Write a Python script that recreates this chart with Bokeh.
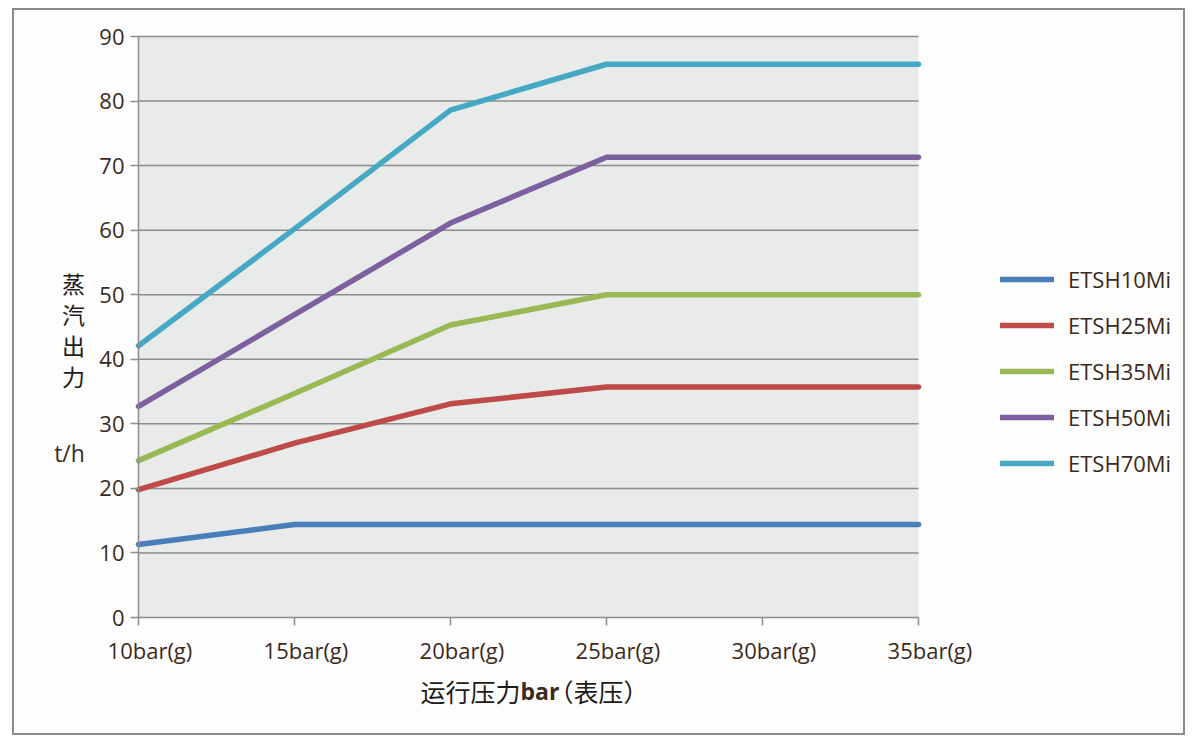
from bokeh.plotting import figure
from bokeh.models import Range1d, Legend, LegendItem, FixedTicker, BoxAnnotation, Label, ColumnDataSource
from bokeh.embed import file_html
from bokeh.resources import INLINE

categories = ["10bar(g)", "15bar(g)", "20bar(g)", "25bar(g)", "30bar(g)", "35bar(g)"]
series_names = ["ETSH10Mi", "ETSH25Mi", "ETSH35Mi", "ETSH50Mi", "ETSH70Mi"]
etsh10 = [11.3, 14.4, 14.4, 14.4, 14.4, 14.4]
etsh25 = [19.8, 27.0, 33.1, 35.7, 35.7, 35.7]
etsh35 = [24.3, 34.7, 45.3, 50.0, 50.0, 50.0]
etsh50 = [32.7, 46.9, 61.1, 71.3, 71.3, 71.3]
etsh70 = [42.1, 60.2, 78.6, 85.7, 85.7, 85.7]
y_ticks = [0, 10, 20, 30, 40, 50, 60, 70, 80, 90]
y_title_chars = ["蒸", "汽", "出", "力"]
y_unit = "t/h"
x_title_parts = ["运行压力", "bar", "（表压）"]
colors = ["#4a7ebb", "#be4b48", "#98b954", "#7d60a0", "#46a9c4"]

FONT = "Open Sans"
CJK = "Noto Sans CJK SC"
TXT = "#3b2a1c"
DARK = "#1e1a17"

# canvas geometry (pixels)
W, H = 1173, 727
PX0, PX1 = 124, 904      # plot area left/right inside canvas
PY_TOP, PY_BOT = 26, 607  # plot area top/bottom inside canvas (from top)
n = len(categories) - 1
ymax = y_ticks[-1]
xs_per_px = n / (PX1 - PX0)
ys_per_px = ymax / (PY_BOT - PY_TOP)

p = figure(width=W, height=H, output_backend="svg", toolbar_location=None,
           x_range=Range1d(-PX0 * xs_per_px, (W - PX0) * xs_per_px),
           y_range=Range1d(-(H - PY_BOT) * ys_per_px, ymax + PY_TOP * ys_per_px),
           min_border=0, min_border_left=0, min_border_right=0,
           min_border_top=0, min_border_bottom=0,
           background_fill_color="#fdfdfd", border_fill_color="#fdfdfd")
p.styles = {"border": "2px solid #8a8a8a", "margin-left": "12px", "margin-top": "8px"}
p.outline_line_color = None
p.xgrid.visible = False
p.ygrid.visible = False

# plot area background
p.add_layout(BoxAnnotation(left=0, right=n, bottom=0, top=ymax, fill_color="#e9ebeb",
                           fill_alpha=1, line_color=None, level="underlay"))

# horizontal grid lines
grid_src = ColumnDataSource(dict(y=y_ticks[1:], x0=[0] * (len(y_ticks) - 1),
                                 x1=[n] * (len(y_ticks) - 1)))
p.segment(x0="x0", x1="x1", y0="y", y1="y", source=grid_src,
          line_color="#8c8c8c", line_width=1.5)

xs = list(range(len(categories)))
items = []
for name, vals, c in zip(series_names, [etsh10, etsh25, etsh35, etsh50, etsh70], colors):
    r = p.line(xs, vals, line_color=c, line_width=5.5, line_cap="round", line_join="round")
    items.append(LegendItem(label=name, renderers=[r]))

# axes drawn at fixed data locations
p.xaxis.fixed_location = 0
p.yaxis.fixed_location = 0
p.xaxis.bounds = (0, n)
p.yaxis.bounds = (0, ymax)
p.xaxis.ticker = FixedTicker(ticks=xs)
# labels sit slightly right of their ticks in the original
p.xaxis.major_label_overrides = {i: "\u00a0" * 4 + c for i, c in enumerate(categories)}
p.yaxis.ticker = FixedTicker(ticks=y_ticks)
for ax in (p.xaxis[0], p.yaxis[0]):
    ax.axis_line_color = "#8c8c8c"
    ax.axis_line_width = 1.5
    ax.major_tick_line_color = "#8c8c8c"
    ax.major_tick_line_width = 1.5
    ax.major_tick_in = 0
    ax.major_tick_out = 8
    ax.minor_tick_line_color = None
    ax.major_label_text_font = FONT
    ax.major_label_text_font_size = "22px"
    ax.major_label_text_color = TXT
p.xaxis.major_label_standoff = 9
p.yaxis.major_label_standoff = 6

# helpers: page-pixel positions -> frame screen coords
def sx(px):
    return px - 14

def sy(py):
    return 737 - py

# y-axis title, stacked characters
for i, ch in enumerate(y_title_chars):
    p.add_layout(Label(x=sx(73), y=sy(282 + 31 * i), x_units="screen", y_units="screen",
                       text=ch, text_align="center", text_baseline="middle",
                       text_font=CJK, text_font_size="23px", text_color=DARK))
p.add_layout(Label(x=sx(69), y=sy(452), x_units="screen", y_units="screen", text=y_unit,
                   text_align="center", text_baseline="middle", text_font=FONT,
                   text_font_size="23px", text_color=TXT))

# x-axis title
p.add_layout(Label(x=sx(520), y=sy(690), x_units="screen", y_units="screen",
                   text=x_title_parts[0], text_align="right", text_baseline="middle",
                   text_font=CJK, text_font_size="25px", text_color=DARK))
p.add_layout(Label(x=sx(520), y=sy(690), x_units="screen", y_units="screen",
                   text=x_title_parts[1], text_align="left", text_baseline="middle",
                   text_font=FONT, text_font_size="23px", text_font_style="bold",
                   text_color=TXT))
p.add_layout(Label(x=sx(548), y=sy(690), x_units="screen", y_units="screen",
                   text=x_title_parts[2], text_align="left", text_baseline="middle",
                   text_font=CJK, text_font_size="25px", text_color=DARK))

legend = Legend(items=items, location=(sx(1000), sy(478)), border_line_color=None,
                background_fill_alpha=0, margin=0, padding=0, spacing=16,
                glyph_width=54, glyph_height=30, label_height=30, label_standoff=14,
                label_text_font=FONT, label_text_font_size="22px", label_text_color=TXT)
p.add_layout(legend, "center")

open("out.html", "w").write(file_html(p, INLINE))
